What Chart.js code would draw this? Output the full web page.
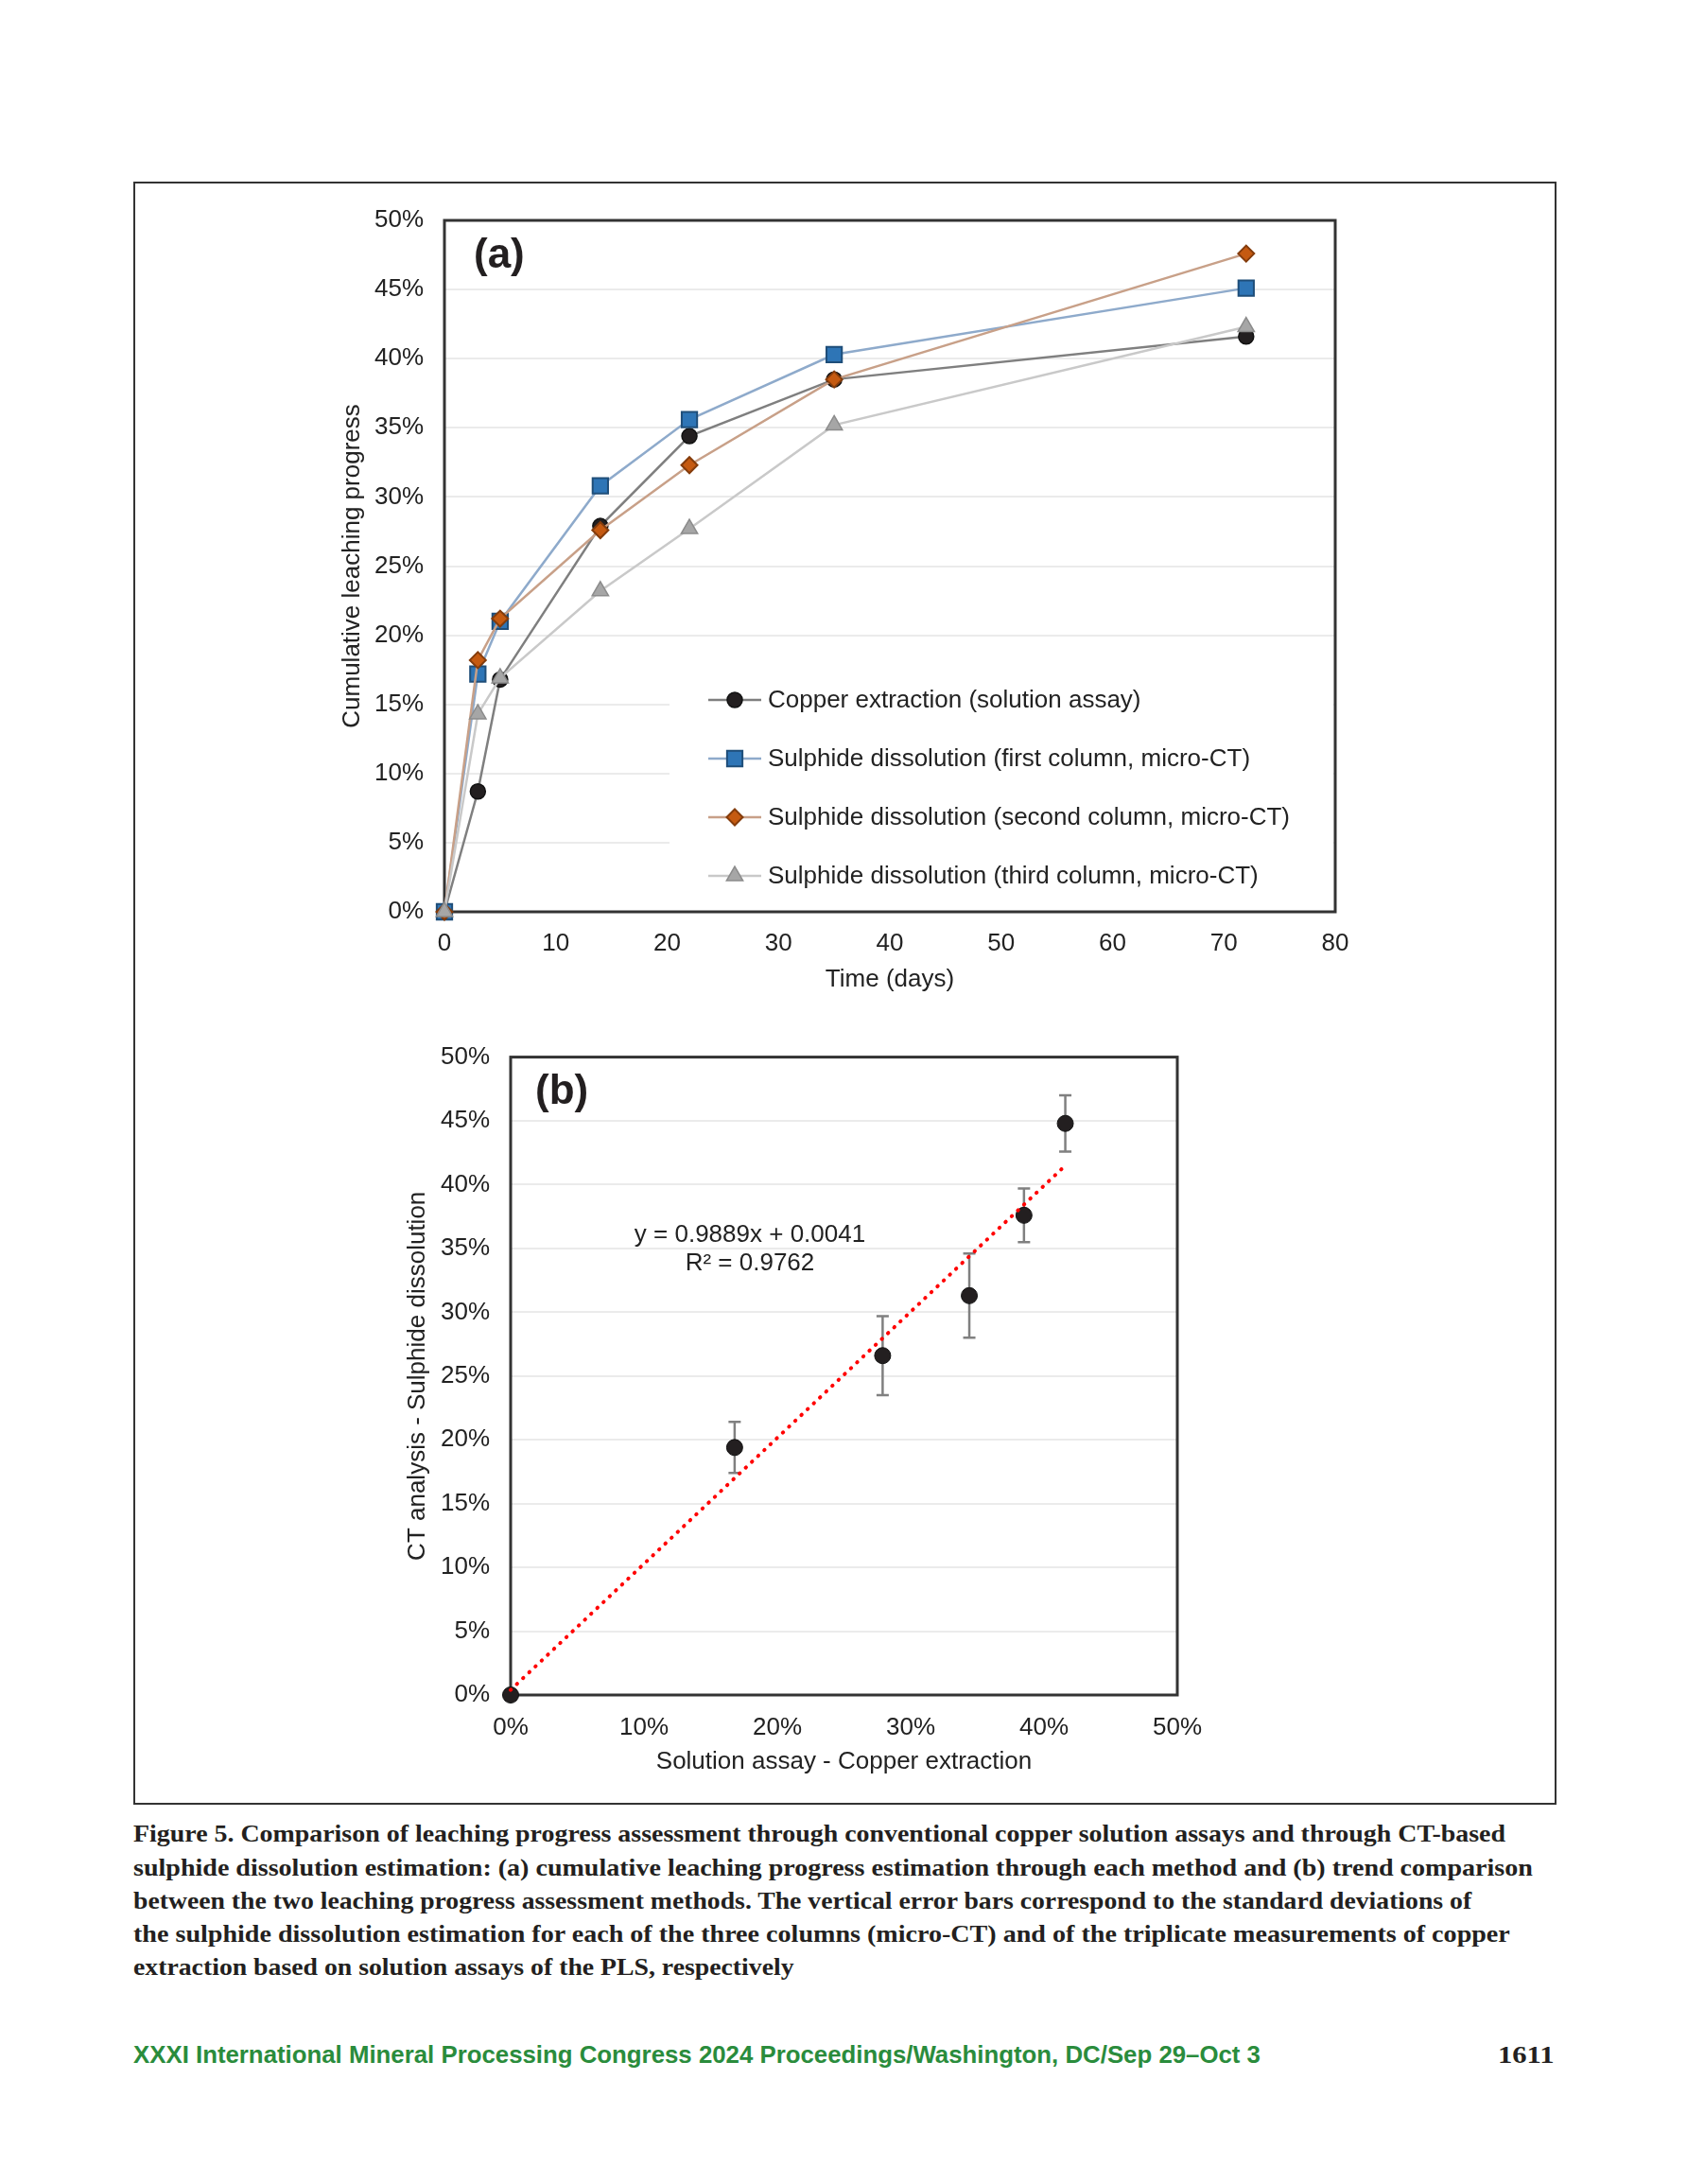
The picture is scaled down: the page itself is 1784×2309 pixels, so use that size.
<!DOCTYPE html>
<html>
<head>
<meta charset="utf-8">
<script src="https://cdn.jsdelivr.net/npm/chart.js@4.4.1/dist/chart.umd.min.js"></script>
<style>
  body { margin: 0; background: #fff; width: 1784px; height: 2309px; position: relative; overflow: hidden;
         font-family: "Liberation Sans", Arial, sans-serif; }
  .abs { position: absolute; }
  #frame { left: 141px; top: 192px; width: 1501px; height: 1712px; border: 2px solid #333; }
  #wrapA { left: 300px; top: 190px; width: 1200px; height: 880px; }
  #wrapB { left: 380px; top: 1080px; width: 920px; height: 820px; }
  .tag { font-weight: bold; font-size: 44px; line-height: 50px; color: #231f20; }
  .eq { font-size: 26px; line-height: 30px; color: #222; text-align: center; width: 400px; }
  .cap { left: 141px; font-family: "Liberation Serif", serif; font-weight: bold; font-size: 26px; line-height: 35px;
         color: #231f20; white-space: nowrap; transform-origin: 0 0; display: inline-block; }
  .foot { font-weight: bold; font-size: 25px; line-height: 30px; color: #2a8c3c; white-space: nowrap;
          transform-origin: 0 0; display: inline-block; }
</style>
</head>
<body>
<div id="frame" class="abs"></div>
<div id="wrapA" class="abs"><canvas id="leachChart"></canvas></div>
<div id="wrapB" class="abs"><canvas id="trendChart"></canvas></div>
<div class="abs tag" style="left:501px;top:243px;">(a)</div>
<div class="abs tag" style="left:566px;top:1127px;">(b)</div>
<div class="abs eq" style="left:593px;top:1289px;">y = 0.9889x + 0.0041<br>R² = 0.9762</div>

<div class="abs cap" data-w="1451" style="top:1921px;">Figure 5. Comparison of leaching progress assessment through conventional copper solution assays and through CT-based</div>
<div class="abs cap" data-w="1480" style="top:1957px;">sulphide dissolution estimation: (a) cumulative leaching progress estimation through each method and (b) trend comparison</div>
<div class="abs cap" data-w="1415" style="top:1992px;">between the two leaching progress assessment methods. The vertical error bars correspond to the standard deviations of</div>
<div class="abs cap" data-w="1456" style="top:2027px;">the sulphide dissolution estimation for each of the three columns (micro-CT) and of the triplicate measurements of copper</div>
<div class="abs cap" data-w="699" style="top:2062px;">extraction based on solution assays of the PLS, respectively</div>
<div class="abs foot" data-w="1192" style="left:141px;top:2157px;">XXXI International Mineral Processing Congress 2024 Proceedings/Washington, DC/Sep 29–Oct 3</div>
<div class="abs cap" data-w="60" style="left:1584px;top:2155px;">1611</div>

<script>
// panel (a) - cumulative leaching progress
const days = [0, 3, 5, 14, 22, 35, 72];
const copperExtraction = [0, 8.7, 16.8, 27.9, 34.4, 38.5, 41.6];
const firstColumn = [0, 17.2, 21.0, 30.8, 35.6, 40.3, 45.1];
const secondColumn = [0, 18.2, 21.2, 27.6, 32.3, 38.5, 47.6];
const thirdColumn = [0, 14.3, 16.9, 23.2, 27.7, 35.2, 42.3];
const seriesNames = [
  'Copper extraction (solution assay)',
  'Sulphide dissolution (first column, micro-CT)',
  'Sulphide dissolution (second column, micro-CT)',
  'Sulphide dissolution (third column, micro-CT)'
];

// panel (b) - trend comparison
const solutionAssay = [0, 16.8, 27.9, 34.4, 38.5, 41.6];
const ctAnalysis = [0, 19.4, 26.6, 31.3, 37.6, 44.8];
const ctStdDev = [0, 2.0, 3.1, 3.3, 2.1, 2.2];
const trendX = [0, 41.6];
const trendY = [0.4, 41.5];

const tickFont = { family: '"Liberation Sans", Arial, sans-serif', size: 26 };
const textColor = '#222';
const gridColor = '#ebebeb';

const toPoints = (xs, ys) => xs.map((x, i) => ({ x: x, y: ys[i] }));

function drawMarker(ctx, style, r, x, y) {
  ctx.beginPath();
  if (style === 'circle') {
    ctx.arc(x, y, r, 0, Math.PI * 2);
  } else if (style === 'rect') {
    const s = r * Math.SQRT1_2;
    ctx.rect(x - s, y - s, 2 * s, 2 * s);
  } else if (style === 'rectRot') {
    ctx.moveTo(x - r, y); ctx.lineTo(x, y - r); ctx.lineTo(x + r, y); ctx.lineTo(x, y + r);
    ctx.closePath();
  } else if (style === 'triangle') {
    ctx.moveTo(x, y - r);
    ctx.lineTo(x + r * Math.sin(Math.PI * 2 / 3), y - r * Math.cos(Math.PI * 2 / 3));
    ctx.lineTo(x + r * Math.sin(Math.PI * 4 / 3), y - r * Math.cos(Math.PI * 4 / 3));
    ctx.closePath();
  }
  ctx.fill();
  ctx.stroke();
}

// box around the plot area
const plotBox = {
  id: 'plotBox',
  beforeDatasetsDraw(chart) {
    const a = chart.chartArea;
    const ctx = chart.ctx;
    ctx.save();
    ctx.strokeStyle = '#333';
    ctx.lineWidth = 3;
    ctx.strokeRect(a.left, a.top, a.right - a.left, a.bottom - a.top);
    ctx.restore();
  }
};

// legend inside the plot, lower right
const innerLegend = {
  id: 'innerLegend',
  beforeDatasetsDraw(chart) {
    const a = chart.chartArea;
    const ctx = chart.ctx;
    ctx.save();
    ctx.fillStyle = '#fff';
    ctx.fillRect(a.left + 238, a.top + 467, a.right - a.left - 240, a.bottom - a.top - 469);
    const dsets = chart.data.datasets.slice().sort((p, q) => p.legendIndex - q.legendIndex);
    dsets.forEach((ds, i) => {
      const y = a.top + 507 + i * 62;
      ctx.strokeStyle = ds.borderColor;
      ctx.lineWidth = ds.borderWidth;
      ctx.beginPath();
      ctx.moveTo(a.left + 279, y);
      ctx.lineTo(a.left + 335, y);
      ctx.stroke();
      ctx.fillStyle = ds.pointBackgroundColor;
      ctx.strokeStyle = ds.pointBorderColor;
      ctx.lineWidth = ds.pointBorderWidth;
      drawMarker(ctx, ds.pointStyle, ds.pointRadius, a.left + 307, y);
      ctx.fillStyle = textColor;
      ctx.font = '26px "Liberation Sans", Arial, sans-serif';
      ctx.textBaseline = 'middle';
      ctx.fillText(ds.label, a.left + 342, y + 1);
    });
    ctx.restore();
  }
};

new Chart(document.getElementById('leachChart'), {
  type: 'line',
  data: {
    datasets: [
      {
        label: seriesNames[0], legendIndex: 0, order: 4, clip: false,
        data: toPoints(days, copperExtraction),
        borderColor: '#7f7f7f', borderWidth: 2.5,
        pointStyle: 'circle', pointRadius: 8, pointBorderWidth: 1.5,
        pointBackgroundColor: '#231f20', pointBorderColor: '#111'
      },
      {
        label: seriesNames[1], legendIndex: 1, order: 3, clip: false,
        data: toPoints(days, firstColumn),
        borderColor: '#8eaacb', borderWidth: 2.5,
        pointStyle: 'rect', pointRadius: 11.5, pointBorderWidth: 2,
        pointBackgroundColor: '#2e75b6', pointBorderColor: '#1f4e79'
      },
      {
        label: seriesNames[2], legendIndex: 2, order: 2, clip: false,
        data: toPoints(days, secondColumn),
        borderColor: '#c8a088', borderWidth: 2.5,
        pointStyle: 'rectRot', pointRadius: 8.5, pointBorderWidth: 2,
        pointBackgroundColor: '#c55a11', pointBorderColor: '#843c0c'
      },
      {
        label: seriesNames[3], legendIndex: 3, order: 1, clip: false,
        data: toPoints(days, thirdColumn),
        borderColor: '#c9c9c9', borderWidth: 2.5,
        pointStyle: 'triangle', pointRadius: 10, pointBorderWidth: 1.5,
        pointBackgroundColor: '#a6a6a6', pointBorderColor: '#8c8c8c'
      }
    ]
  },
  options: {
    responsive: true, maintainAspectRatio: false, animation: false, devicePixelRatio: 1,
    layout: { padding: { top: 43, right: 88, left: 0, bottom: 0 } },
    plugins: { legend: { display: false }, tooltip: { enabled: false } },
    elements: { line: { tension: 0 } },
    scales: {
      x: {
        type: 'linear', min: 0, max: 80,
        ticks: { stepSize: 10, font: tickFont, color: textColor, padding: 18 },
        grid: { display: false, drawTicks: false },
        border: { display: false },
        title: { display: true, text: 'Time (days)', font: tickFont, color: textColor, padding: { top: 0, bottom: 19 } },
        afterFit(scale) { scale.height = 106; }
      },
      y: {
        min: 0, max: 50,
        ticks: { stepSize: 5, font: tickFont, color: textColor, padding: 22, callback: v => v + '%' },
        grid: { color: gridColor, lineWidth: 2, drawTicks: false },
        border: { display: false },
        title: { display: true, text: 'Cumulative leaching progress', font: tickFont, color: textColor, padding: { top: 57, bottom: 0 } },
        afterFit(scale) { scale.width = 170; }
      }
    }
  },
  plugins: [innerLegend, plotBox]
});

// vertical error bars for panel (b)
const errorBars = {
  id: 'errorBars',
  beforeDatasetsDraw(chart) {
    const xs = chart.scales.x, ys = chart.scales.y;
    const ctx = chart.ctx;
    ctx.save();
    ctx.strokeStyle = '#808080';
    ctx.lineWidth = 2.5;
    solutionAssay.forEach((v, i) => {
      const sd = ctStdDev[i];
      if (!sd) return;
      const px = xs.getPixelForValue(v);
      const top = ys.getPixelForValue(ctAnalysis[i] + sd);
      const bot = ys.getPixelForValue(ctAnalysis[i] - sd);
      ctx.beginPath();
      ctx.moveTo(px, top); ctx.lineTo(px, bot);
      ctx.moveTo(px - 6.5, top); ctx.lineTo(px + 6.5, top);
      ctx.moveTo(px - 6.5, bot); ctx.lineTo(px + 6.5, bot);
      ctx.stroke();
    });
    ctx.restore();
  }
};

new Chart(document.getElementById('trendChart'), {
  type: 'scatter',
  data: {
    datasets: [
      {
        label: 'Linear trend', order: 0, clip: false,
        data: toPoints(trendX, trendY),
        showLine: true, borderColor: '#ff0000', borderWidth: 4,
        borderDash: [0.5, 8.5], borderCapStyle: 'round',
        pointRadius: 0
      },
      {
        label: 'CT vs solution assay', order: 1, clip: false,
        data: toPoints(solutionAssay, ctAnalysis),
        pointStyle: 'circle', pointRadius: 8.5, pointBorderWidth: 1,
        pointBackgroundColor: '#231f20', pointBorderColor: '#111'
      }
    ]
  },
  options: {
    responsive: true, maintainAspectRatio: false, animation: false, devicePixelRatio: 1,
    layout: { padding: { top: 37, right: 55, left: 0, bottom: 0 } },
    plugins: { legend: { display: false }, tooltip: { enabled: false } },
    scales: {
      x: {
        type: 'linear', min: 0, max: 50,
        ticks: { stepSize: 10, font: tickFont, color: textColor, padding: 19, callback: v => v + '%' },
        grid: { display: false, drawTicks: false },
        border: { display: false },
        title: { display: true, text: 'Solution assay - Copper extraction', font: tickFont, color: textColor, padding: { top: 0, bottom: 22 } },
        afterFit(scale) { scale.height = 108; }
      },
      y: {
        min: 0, max: 50,
        ticks: { stepSize: 5, font: tickFont, color: textColor, padding: 22, callback: v => v + '%' },
        grid: { color: gridColor, lineWidth: 2, drawTicks: false },
        border: { display: false },
        title: { display: true, text: 'CT analysis - Sulphide dissolution', font: tickFont, color: textColor, padding: { top: 46, bottom: 0 } },
        afterFit(scale) { scale.width = 160; }
      }
    }
  },
  plugins: [errorBars, plotBox]
});

// squeeze caption lines to the widths in the printed page
document.querySelectorAll('[data-w]').forEach(el => {
  const w = el.offsetWidth;
  if (w) el.style.transform = 'scaleX(' + (Number(el.dataset.w) / w) + ')';
});
</script>
</body>
</html>
